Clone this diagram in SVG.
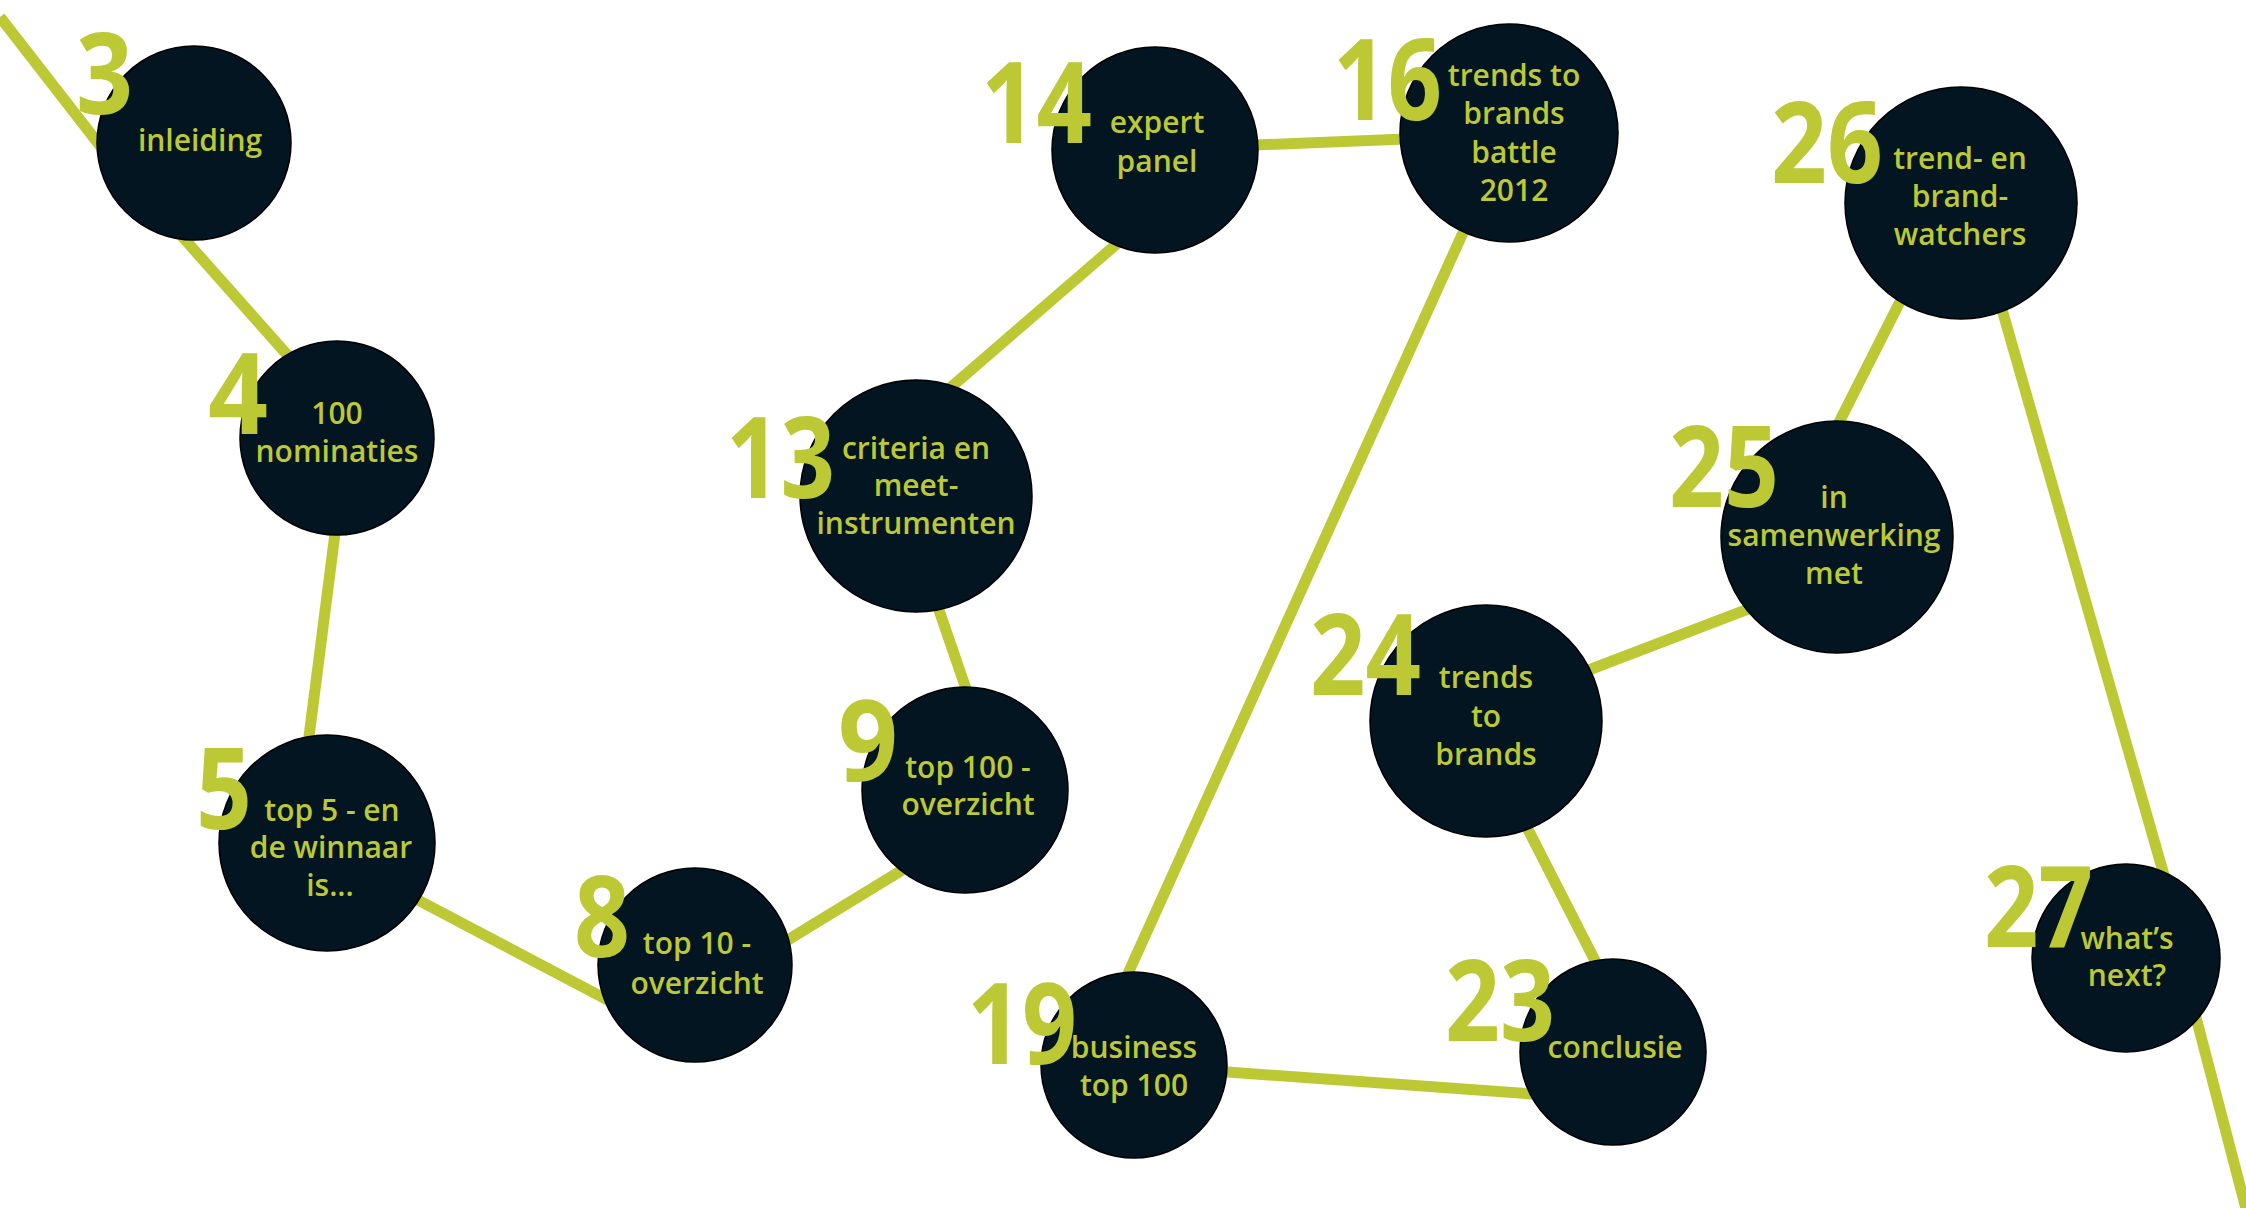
<svg xmlns="http://www.w3.org/2000/svg" width="2246" height="1208" viewBox="0 0 2246 1208">
<style>
.bg{fill:#ffffff}
.edge{stroke:#bcc935;stroke-width:11;fill:none;stroke-linecap:butt}
.dot{fill:#021520;stroke:#000000;stroke-width:1.5}
.num{fill:#bcc935;font-family:"Open Sans","Liberation Sans",sans-serif;font-weight:700;font-size:113px}
.lbl{fill:#bcc935;font-family:"Open Sans","Liberation Sans",sans-serif;font-weight:600;font-size:30px;text-anchor:middle}
</style>
<rect class="bg" x="0" y="0" width="2246" height="1208"/>
<g id="connectors">
<line class="edge" x1="0" y1="17" x2="150" y2="210"/>
<line class="edge" x1="132" y1="180" x2="338" y2="412"/>
<line class="edge" x1="338" y1="510" x2="306" y2="760"/>
<line class="edge" x1="380" y1="880" x2="640" y2="1017"/>
<line class="edge" x1="760" y1="957" x2="930" y2="853"/>
<line class="edge" x1="930" y1="584" x2="975" y2="715"/>
<line class="edge" x1="920" y1="414" x2="1149" y2="216"/>
<line class="edge" x1="1230" y1="146" x2="1430" y2="138"/>
<line class="edge" x1="1480" y1="195" x2="1116" y2="1000"/>
<line class="edge" x1="1200" y1="1070" x2="1560" y2="1096"/>
<line class="edge" x1="1610" y1="990" x2="1515" y2="804"/>
<line class="edge" x1="1560" y1="681" x2="1790" y2="593"/>
<line class="edge" x1="1825" y1="450" x2="1915" y2="272"/>
<line class="edge" x1="1985" y1="250" x2="2174" y2="910"/>
<line class="edge" x1="2181" y1="960" x2="2250" y2="1224"/>
</g>
<g id="node-3">
<circle class="dot" cx="194" cy="143" r="97"/>
<text class="num" x="76" y="114" textLength="57" lengthAdjust="spacingAndGlyphs">3</text>
<text class="lbl" x="200" y="151">inleiding</text>
</g>
<g id="node-4">
<circle class="dot" cx="337" cy="438" r="97"/>
<text class="num" x="208" y="434" textLength="60" lengthAdjust="spacingAndGlyphs">4</text>
<text class="lbl" x="337" y="424">100</text>
<text class="lbl" x="337" y="462">nominaties</text>
</g>
<g id="node-5">
<circle class="dot" cx="327" cy="843" r="108"/>
<text class="num" x="196" y="829" textLength="56" lengthAdjust="spacingAndGlyphs">5</text>
<text class="lbl" x="332" y="821">top 5 - en</text>
<text class="lbl" x="331" y="858">de winnaar</text>
<text class="lbl" x="330" y="896">is...</text>
</g>
<g id="node-8">
<circle class="dot" cx="695" cy="965" r="97"/>
<text class="num" x="574" y="957" textLength="56" lengthAdjust="spacingAndGlyphs">8</text>
<text class="lbl" x="697" y="954">top 10 -</text>
<text class="lbl" x="697" y="994">overzicht</text>
</g>
<g id="node-9">
<circle class="dot" cx="965" cy="790" r="103"/>
<text class="num" x="838" y="781" textLength="60" lengthAdjust="spacingAndGlyphs">9</text>
<text class="lbl" x="968" y="778">top 100 -</text>
<text class="lbl" x="968" y="815">overzicht</text>
</g>
<g id="node-13">
<circle class="dot" cx="916" cy="496" r="116"/>
<text class="num" x="726" y="498" textLength="109" lengthAdjust="spacingAndGlyphs">13</text>
<text class="lbl" x="916" y="459">criteria en</text>
<text class="lbl" x="916" y="496">meet-</text>
<text class="lbl" x="916" y="534">instrumenten</text>
</g>
<g id="node-14">
<circle class="dot" cx="1155" cy="150" r="103"/>
<text class="num" x="981" y="143" textLength="111" lengthAdjust="spacingAndGlyphs">14</text>
<text class="lbl" x="1157" y="133">expert</text>
<text class="lbl" x="1157" y="172">panel</text>
</g>
<g id="node-16">
<circle class="dot" cx="1509" cy="133" r="109"/>
<text class="num" x="1333" y="120" textLength="109" lengthAdjust="spacingAndGlyphs">16</text>
<text class="lbl" x="1514" y="86">trends to</text>
<text class="lbl" x="1514" y="124">brands</text>
<text class="lbl" x="1514" y="163">battle</text>
<text class="lbl" x="1514" y="201">2012</text>
</g>
<g id="node-19">
<circle class="dot" cx="1134" cy="1065" r="93"/>
<text class="num" x="967" y="1064" textLength="110" lengthAdjust="spacingAndGlyphs">19</text>
<text class="lbl" x="1134" y="1058">business</text>
<text class="lbl" x="1134" y="1096">top 100</text>
</g>
<g id="node-23">
<circle class="dot" cx="1613" cy="1052" r="93"/>
<text class="num" x="1445" y="1041" textLength="110" lengthAdjust="spacingAndGlyphs">23</text>
<text class="lbl" x="1615" y="1058">conclusie</text>
</g>
<g id="node-24">
<circle class="dot" cx="1486" cy="721" r="116"/>
<text class="num" x="1310" y="695" textLength="111" lengthAdjust="spacingAndGlyphs">24</text>
<text class="lbl" x="1486" y="688">trends</text>
<text class="lbl" x="1486" y="727">to</text>
<text class="lbl" x="1486" y="765">brands</text>
</g>
<g id="node-25">
<circle class="dot" cx="1837" cy="537" r="116"/>
<text class="num" x="1669" y="507" textLength="110" lengthAdjust="spacingAndGlyphs">25</text>
<text class="lbl" x="1834" y="508">in</text>
<text class="lbl" x="1834" y="546">samenwerking</text>
<text class="lbl" x="1834" y="584">met</text>
</g>
<g id="node-26">
<circle class="dot" cx="1961" cy="203" r="116"/>
<text class="num" x="1771" y="183" textLength="112" lengthAdjust="spacingAndGlyphs">26</text>
<text class="lbl" x="1960" y="169">trend- en</text>
<text class="lbl" x="1960" y="207">brand-</text>
<text class="lbl" x="1960" y="245">watchers</text>
</g>
<g id="node-27">
<circle class="dot" cx="2126" cy="958" r="94"/>
<text class="num" x="1984" y="947" textLength="109" lengthAdjust="spacingAndGlyphs">27</text>
<text class="lbl" x="2127" y="949">what’s</text>
<text class="lbl" x="2127" y="986">next?</text>
</g>
</svg>
